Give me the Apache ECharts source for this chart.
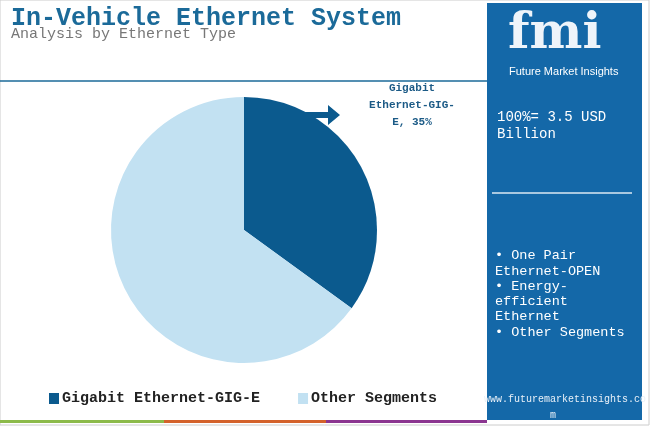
<!DOCTYPE html><html><head><meta charset="utf-8"><script src="https://cdn.jsdelivr.net/npm/echarts@6/dist/echarts.min.js"></script>
<style>body{margin:0}#c{width:650px;height:426px}</style></head><body><div id="c"></div><script>
const categories=["Gigabit Ethernet-GIG-E","Other Segments"];
const values=[35,65];
const colors=["#0b5a8e","#c2e1f2"];
const mono="'Liberation Mono','DejaVu Sans Mono',monospace";
const chart=echarts.init(document.getElementById('c'));
chart.setOption({
animation:false,
legend:{left:44,top:386,itemWidth:10,itemHeight:11,itemGap:38,icon:'rect',
 textStyle:{fontFamily:mono,fontSize:15,fontWeight:'bold',color:'#222',padding:[0,0,0,-2]},data:categories},
graphic:[
 {type:'rect',shape:{x:0,y:0,width:649,height:425},style:{fill:'none',stroke:'#ccc',lineWidth:1}},
 {type:'text',left:11,top:6,style:{text:'In-Vehicle Ethernet System',font:"bold 25px "+mono,fill:'#1b6a99'}},
 {type:'text',left:11,top:27,style:{text:'Analysis by Ethernet Type',font:"15px "+mono,fill:'#777'}},
 {type:'line',shape:{x1:0,y1:81,x2:487,y2:81},style:{stroke:'#1b6a99',lineWidth:1.5}},
 {type:'rect',shape:{x:487,y:3,width:155,height:417},style:{fill:'#1468a8'}},
 {type:'text',left:508,top:10,style:{text:'fmi',font:"bold 50px 'DejaVu Serif',serif",fill:'#eef4fa'}},
 {type:'text',left:509,top:66,style:{text:'Future Market Insights',font:"11px 'Liberation Sans Narrow','Liberation Sans',sans-serif",fill:'#fff'}},
 {type:'text',left:497,top:109,style:{text:'100%= 3.5 USD\nBillion',font:"14px "+mono,fill:'#fff',lineHeight:17}},
 {type:'line',shape:{x1:492,y1:193,x2:632,y2:193},style:{stroke:'#dbe8f3',lineWidth:1.5}},
 {type:'text',left:495,top:248,style:{text:'• One Pair\nEthernet-OPEN\n• Energy-\nefficient\nEthernet\n• Other Segments',font:"13.5px "+mono,fill:'#fff',lineHeight:15.3}},
 {type:'text',left:484,top:391,style:{text:'www.futuremarketinsights.co\n           m',font:"10px "+mono,fill:'#e8f0f8',lineHeight:16}},
 {type:'rect',shape:{x:0,y:420,width:164,height:3},style:{fill:'#8cba4a'}},
 {type:'rect',shape:{x:164,y:420,width:162,height:3},style:{fill:'#d4622b'}},
 {type:'rect',shape:{x:326,y:420,width:161,height:3},style:{fill:'#8b3590'}},
 {type:'polygon',shape:{points:[[305,112],[328,112],[328,105],[340,115],[328,125],[328,118],[305,118]]},style:{fill:'#0b5a8e'}}
],
series:[{type:'pie',center:[244,230],radius:[0,133],startAngle:90,clockwise:true,
 data:categories.map((n,i)=>({name:n,value:values[i],itemStyle:{color:colors[i]},
  label:{show:i===0}})),
 label:{position:'outside',formatter:p=>'Gigabit\nEthernet-GIG-\nE, '+p.value+'%',
  fontFamily:mono,fontSize:11,fontWeight:'bold',color:'#1b5a86',align:'center',lineHeight:17},
 labelLine:{show:false},
 labelLayout:{x:412,y:80,align:'center',verticalAlign:'top'}
}]
});
</script></body></html>
